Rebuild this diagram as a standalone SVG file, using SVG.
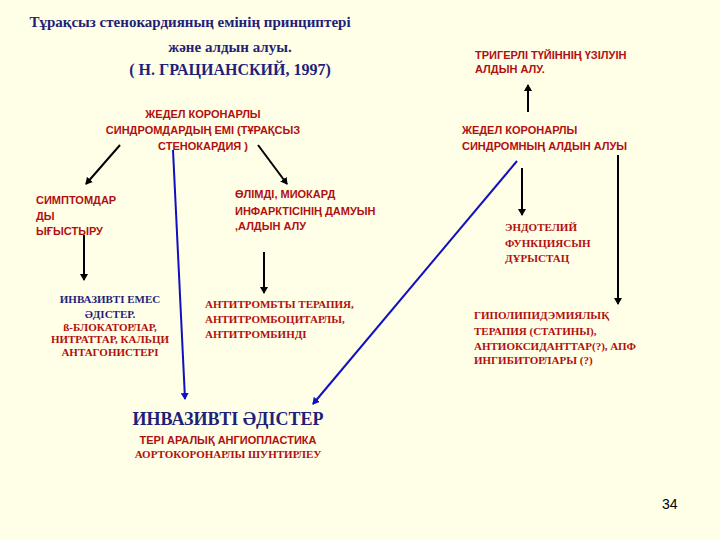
<svg xmlns="http://www.w3.org/2000/svg" width="720" height="540" viewBox="0 0 720 540">
<style>
.t{font-family:"Liberation Serif",serif;font-weight:bold;fill:#1f1f7a}
.r{font-family:"Liberation Sans",sans-serif;font-weight:bold;fill:#b01010;font-size:11px}
.rs{font-family:"Liberation Serif",serif;font-weight:bold;fill:#b01010;font-size:11px}
.k{stroke:#000;stroke-width:2;fill:none;marker-end:url(#ak)}
.b{stroke:#1010c0;stroke-width:2;fill:none;marker-end:url(#ab)}
</style>
<defs>
<marker id="ak" markerWidth="8" markerHeight="8" refX="6" refY="4" orient="auto" markerUnits="userSpaceOnUse"><path d="M0,0L7,4L0,8z" fill="#000"/></marker>
<marker id="ab" markerWidth="8" markerHeight="8" refX="6" refY="4" orient="auto" markerUnits="userSpaceOnUse"><path d="M0,0L7,4L0,8z" fill="#1010c0"/></marker>
</defs>
<rect width="720" height="540" fill="#fffee6"/>
<g id="title" class="t" font-size="15" text-anchor="middle">
<text x="190" y="27">Тұрақсыз стенокардияның емінің принциптері</text>
<text x="230" y="52">және алдын алуы.</text>
<text x="230" y="75" font-size="16">( Н. ГРАЦИАНСКИЙ, 1997)</text>
</g>
<g id="root" class="r" text-anchor="middle" font-size="11.5">
<text x="203" y="118">ЖЕДЕЛ КОРОНАРЛЫ</text>
<text x="203" y="134">СИНДРОМДАРДЫҢ ЕМІ (ТҰРАҚСЫЗ</text>
<text x="203" y="150">СТЕНОКАРДИЯ )</text>
</g>
<g id="symptom" class="r">
<text x="36" y="204">СИМПТОМДАР</text>
<text x="36" y="220">ДЫ</text>
<text x="36" y="235">ЫҒЫСТЫРУ</text>
</g>
<g id="olim" class="r">
<text x="235" y="198">ӨЛІМДІ, МИОКАРД</text>
<text x="235" y="215">ИНФАРКТІСІНІҢ ДАМУЫН</text>
<text x="235" y="230">,АЛДЫН АЛУ</text>
</g>
<g id="noninv" text-anchor="middle">
<text class="t" font-size="11" x="110" y="303">ИНВАЗИВТІ ЕМЕС</text>
<text class="t" font-size="11" x="110" y="318">ӘДІСТЕР.</text>
<text class="rs" font-size="10" x="110" y="331">ß-БЛОКАТОРЛАР,</text>
<text class="rs" font-size="10" x="110" y="343">НИТРАТТАР, КАЛЬЦИ</text>
<text class="rs" font-size="10" x="110" y="356">АНТАГОНИСТЕРІ</text>
</g>
<g id="antithromb" class="rs">
<text x="205" y="308">АНТИТРОМБТЫ ТЕРАПИЯ,</text>
<text x="205" y="323">АНТИТРОМБОЦИТАРЛЫ,</text>
<text x="205" y="338">АНТИТРОМБИНДІ</text>
</g>
<g id="invasive" text-anchor="middle">
<text class="t" font-size="18" x="228" y="425">ИНВАЗИВТІ ӘДІСТЕР</text>
<text class="r" x="228" y="444">ТЕРІ АРАЛЫҚ АНГИОПЛАСТИКА</text>
<text class="rs" x="228" y="458">АОРТОКОРОНАРЛЫ ШУНТИРЛЕУ</text>
</g>
<g id="trigger" class="r">
<text x="475" y="59">ТРИГЕРЛІ ТҮЙІННІҢ ҮЗІЛУІН</text>
<text x="475" y="73">АЛДЫН АЛУ.</text>
</g>
<g id="prevent" class="r">
<text x="462" y="134">ЖЕДЕЛ КОРОНАРЛЫ</text>
<text x="462" y="150">СИНДРОМНЫҢ АЛДЫН АЛУЫ</text>
</g>
<g id="endo" class="rs">
<text x="505" y="231">ЭНДОТЕЛИЙ</text>
<text x="505" y="247">ФУНКЦИЯСЫН</text>
<text x="505" y="262">ДҰРЫСТАЦ</text>
</g>
<g id="hypo" class="rs">
<text x="474" y="319">ГИПОЛИПИДЭМИЯЛЫҚ</text>
<text x="474" y="335">ТЕРАПИЯ (СТАТИНЫ),</text>
<text x="474" y="350">АНТИОКСИДАНТТАР(?), АПФ</text>
<text x="474" y="364">ИНГИБИТОРЛАРЫ (?)</text>
</g>
<text x="662" y="509" font-family="Liberation Sans,sans-serif" font-size="14" fill="#000">34</text>
<g id="connectors">
<path class="k" d="M120,145L86,184"/>
<path class="k" d="M258,145L287,184"/>
<path class="k" d="M84,235L84,280"/>
<path class="k" d="M264,252L264,293"/>
<path class="b" d="M173,150L185,399"/>
<path class="b" d="M517,161L313,404"/>
<path class="k" d="M528,112L528,85"/>
<path class="k" d="M522,168L522,215"/>
<path class="k" d="M618,155L618,304"/>
</g>
</svg>
